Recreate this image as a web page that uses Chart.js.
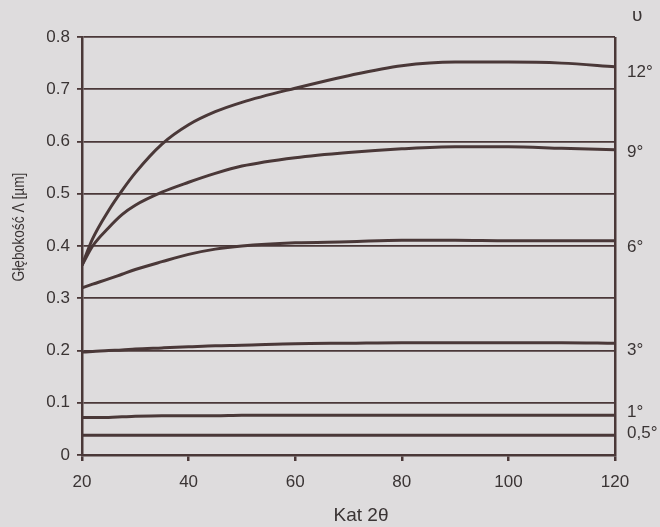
<!DOCTYPE html>
<html>
<head>
<meta charset="utf-8">
<script src="https://cdn.jsdelivr.net/npm/chart.js@4/dist/chart.umd.min.js"></script>
<style>
  html, body { margin: 0; padding: 0; background: #dedcdd; }
  #wrap { width: 660px; height: 527px; position: relative; }
</style>
</head>
<body>
<div id="wrap"><canvas id="plot"></canvas></div>
<script>
/* values */
var angles = [20, 22, 25, 27.5, 30, 35, 40, 45, 50, 60, 70, 80, 90, 100, 110, 120];
var deg12 = [0.363, 0.414, 0.468, 0.506, 0.54, 0.595, 0.632, 0.657, 0.675, 0.702, 0.726, 0.745, 0.752, 0.752, 0.75, 0.743];
var deg9  = [0.363, 0.4, 0.435, 0.46, 0.478, 0.503, 0.522, 0.539, 0.553, 0.569, 0.579, 0.586, 0.59, 0.59, 0.587, 0.584];
var deg6  = [0.32, 0.327, 0.337, 0.346, 0.355, 0.37, 0.384, 0.394, 0.4, 0.406, 0.408, 0.411, 0.411, 0.41, 0.41, 0.41];
var deg3  = [0.197, 0.198, 0.2, 0.201, 0.203, 0.205, 0.207, 0.209, 0.21, 0.213, 0.214, 0.215, 0.215, 0.215, 0.215, 0.214];
var deg1  = [0.072, 0.072, 0.072, 0.073, 0.074, 0.075, 0.075, 0.075, 0.076, 0.076, 0.076, 0.076, 0.076, 0.076, 0.076, 0.076];
var deg05 = [0.038, 0.038, 0.038, 0.038, 0.038, 0.038, 0.038, 0.038, 0.038, 0.038, 0.038, 0.038, 0.038, 0.038, 0.038, 0.038];

var seriesNames = ['12°', '9°', '6°', '3°', '1°', '0,5°'];
// where each right-hand label sits on the y scale
var labelAt = [0.733, 0.58, 0.398, 0.201, 0.082, 0.042];

var xTicks = [20, 40, 60, 80, 100, 120];
var yTicks = [0, 0.1, 0.2, 0.3, 0.4, 0.5, 0.6, 0.7, 0.8];

var ink = '#4a3838';
var textCol = '#3a3434';
var font = '"Liberation Sans", Arial, sans-serif';

function toPoints(ys) {
    return angles.map(function (a, i) { return { x: a, y: ys[i] }; });
}

var allSeries = [deg12, deg9, deg6, deg3, deg1, deg05];
var datasets = allSeries.map(function (ys, i) {
    return {
        label: seriesNames[i],
        data: toPoints(ys),
        borderColor: ink,
        borderWidth: 3,
        pointRadius: 0,
        fill: false,
        cubicInterpolationMode: 'monotone'
    };
});

// extra texts: axis titles, curve names on the right
var textPlugin = {
    id: 'texts',
    afterDraw: function (chart) {
        var ctx = chart.ctx;
        var yScale = chart.scales.y;
        var area = chart.chartArea;
        ctx.save();
        ctx.fillStyle = textCol;
        ctx.font = '17px ' + font;
        ctx.textBaseline = 'middle';
        ctx.textAlign = 'left';
        seriesNames.forEach(function (name, i) {
            ctx.fillText(name, area.right + 12, yScale.getPixelForValue(labelAt[i]));
        });
        ctx.font = '19px ' + font;
        ctx.fillText('υ', area.right + 17, 16);

        ctx.font = '19px ' + font;
        ctx.textAlign = 'center';
        ctx.fillText('Kat 2θ', 361, 516);

        // the scan squeezes this title along its length
        ctx.font = '16px ' + font;
        ctx.translate(20, 227);
        ctx.rotate(-Math.PI / 2);
        ctx.scale(0.86, 1);
        ctx.fillText('Głębokość Λ [µm]', 0, 0);
        ctx.restore();
    }
};

new Chart(document.getElementById('plot'), {
    type: 'line',
    data: { datasets: datasets },
    options: {
        responsive: true,
        maintainAspectRatio: false,
        animation: false,
        layout: { padding: { top: 37, right: 45, left: 0, bottom: 0 } },
        plugins: { legend: { display: false }, tooltip: { enabled: false } },
        scales: {
            x: {
                type: 'linear',
                min: 20, max: 120,
                afterBuildTicks: function (s) { s.ticks = xTicks.map(function (v) { return { value: v }; }); },
                afterFit: function (s) { s.height = 72; },
                grid: {
                    drawOnChartArea: true,
                    color: function (c) { return c.tick && c.tick.value === 120 ? ink : 'rgba(0,0,0,0)'; },
                    lineWidth: 2.5,
                    tickColor: ink,
                    tickLength: 6
                },
                border: { color: ink, width: 2.5 },
                ticks: { color: textCol, font: { family: font, size: 17 }, padding: 11, maxRotation: 0 }
            },
            y: {
                min: 0, max: 0.8,
                afterBuildTicks: function (s) { s.ticks = yTicks.map(function (v) { return { value: v }; }); },
                afterFit: function (s) { s.width = 82; },
                grid: { color: ink, lineWidth: 1.8, tickColor: ink, tickLength: 5 },
                border: { color: ink, width: 2.5 },
                ticks: {
                    color: textCol,
                    font: { family: font, size: 17 },
                    padding: 7,
                    callback: function (v) { return v === 0 ? '0' : v.toFixed(1); }
                }
            }
        }
    },
    plugins: [textPlugin]
});
</script>
</body>
</html>
